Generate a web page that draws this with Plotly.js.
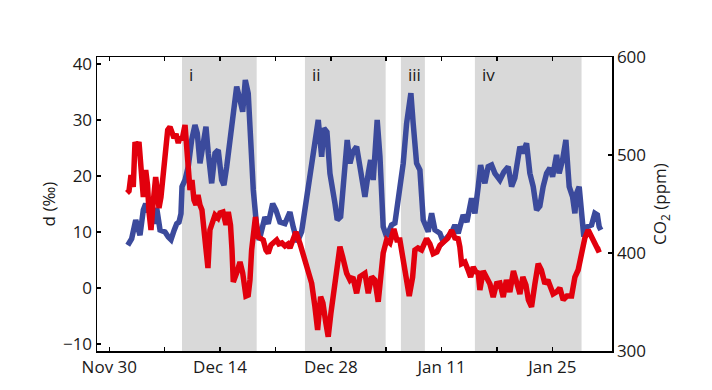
<!DOCTYPE html>
<html><head><meta charset="utf-8">
<script src="https://cdn.plot.ly/plotly-3.0.1.min.js"></script>
<style>html,body{margin:0;padding:0;background:#fff}</style>
</head><body><div id="chart" style="width:712px;height:390px"></div>
<script>
// days since Nov 30 (2013)
const blueDays = [2.33,2.83,3.34,3.67,3.88,4.30,4.60,4.93,5.27,5.69,5.99,6.41,7.04,7.46,7.80,8.21,8.52,8.81,9.06,9.19,9.57,9.98,10.41,10.83,11.12,11.46,11.88,12.22,12.51,12.94,13.36,13.77,14.20,14.49,14.84,15.25,15.67,16.10,16.52,16.86,17.19,17.56,17.87,18.20,18.63,18.95,19.26,19.67,20.09,20.65,21.06,21.57,22.20,22.83,23.25,23.76,24.31,24.94,25.58,25.99,26.41,26.84,27.13,27.51,27.89,28.52,28.81,29.24,29.66,30.07,30.42,30.79,31.26,31.68,32.31,32.73,33.03,33.36,33.86,34.21,34.62,35.05,35.68,36.10,36.52,37.15,37.58,38.12,38.41,38.84,39.26,39.68,40.31,40.74,41.16,41.79,42.20,42.84,43.30,43.68,44.10,44.73,45.20,45.79,46.21,46.63,46.93,47.47,47.89,48.32,48.74,49.37,49.87,50.42,50.85,51.26,51.90,52.27,52.74,53.16,53.58,54.01,54.42,54.84,55.27,55.69,56.03,56.53,56.86,57.29,57.71,58.13,58.56,58.85,59.06,59.39,59.69,59.98,60.40,60.96,61.37,61.69,61.92,62.13];
const co2Values = [407.9,414.6,433.7,423.5,418.1,443.9,450.3,441.8,449,429.9,445.9,423.5,421.4,416.3,413.6,423.5,429.9,431.6,440.1,467.7,474.5,488.1,515.3,530.6,522.1,491.5,515.3,528.9,501.7,471.1,501.7,505.1,474.5,469.4,488.1,515.3,535.7,569.7,556.1,544.2,576.5,563,515.3,464.3,426.8,413.3,423.2,436.7,429.9,450.3,443.9,431.6,429.9,441.8,426.5,411.2,421.7,454.1,484.7,505.1,535.7,498.3,527.2,523.5,481.3,450.7,433.7,437,481.3,515.3,491.5,503.1,508.5,484.7,457.4,481.3,494.9,474.5,535.7,498.3,426.8,416.6,428.6,430.6,457.4,491.5,532.3,563,532.3,491.5,484.7,433.7,421.7,440.5,423.5,420.1,411.5,416.6,421.4,428.6,420.1,438.8,431.6,455.8,440.5,467.7,489.8,471.1,488.1,489.8,481.3,474.5,482.7,488.1,467.7,476.5,508.5,502,511.9,481.3,467.7,443.9,448,467.7,481.3,486.7,477.9,500,481.3,494.9,515.3,467.7,457.4,440.5,460.9,467.7,440.5,416.6,426.8,428.6,440.5,438.8,426.8,423.5];
const redDays = [2.24,2.49,2.74,2.87,3.03,3.25,3.50,3.75,4.01,4.30,4.60,4.83,5.02,5.27,5.52,5.86,6.09,6.28,6.53,6.79,7.04,7.38,7.67,7.92,8.18,8.43,8.72,8.93,9.19,9.57,9.76,9.95,10.20,10.45,10.70,10.96,11.21,11.46,11.71,11.97,12.28,12.47,12.72,12.98,13.36,13.74,13.99,14.37,14.75,15.04,15.32,15.51,15.67,16.10,16.52,16.86,17.27,17.56,17.78,17.99,18.28,18.47,18.83,19.17,19.46,19.80,20.09,20.43,20.81,21.15,21.44,21.82,22.20,22.58,22.83,23.25,23.59,24.10,24.60,25.15,25.58,25.99,26.33,26.71,27.00,27.38,27.67,28.01,28.30,28.73,29.15,29.49,30.00,30.42,30.79,31.26,31.68,32.31,32.73,33.16,33.57,33.99,34.29,34.62,35.05,35.47,35.97,36.35,36.73,37.15,37.58,37.91,38.34,38.63,39.01,39.47,40.11,40.52,40.94,41.41,41.79,42.42,42.80,43.27,43.68,44.10,44.31,44.53,44.95,45.36,45.67,46.00,46.34,46.63,46.84,47.26,47.69,48.11,48.52,48.95,49.37,49.79,50.19,50.63,51.08,51.52,51.90,52.27,52.66,52.97,53.37,53.79,54.21,54.61,55.06,55.43,55.69,56.10,56.53,56.95,57.37,57.84,58.43,58.85,59.26,59.69,60.11,60.53,60.96,61.37,61.79,62.13];
const dValues = [16.96,17.32,20.18,18.39,18.04,26.07,25.18,26.07,21.07,16.25,21.07,18.39,13.57,10.36,14.82,19.82,17.14,14.29,16.25,20.18,23.39,28.21,28.75,27.86,26.79,27.5,25.89,26.96,26.43,29.11,24.64,20.18,17.5,19.29,15.71,14.82,16.61,14.82,13.93,10.36,4.64,3.57,10.36,11.79,13.04,12.5,13.39,13.57,11.25,13.57,11.25,6.79,1.07,2.68,4.64,2.68,-1.43,-1.25,1.43,6.79,11.25,12.68,9.11,8.93,8.57,6.79,6.25,7.68,8.04,8.57,7.86,8.04,7.5,7.86,7.14,8.75,10,7.95,5.59,3.21,0.84,-3.34,-7.5,-1.55,-2.68,-6.3,-8.7,-4.52,-0.95,3.8,7.37,5.59,2.62,1.43,1.96,-0.95,2.02,2.62,-0.95,2.02,1.43,-2.45,2.62,6.25,8.57,8.04,10.54,8.57,8.57,5,0.18,-1.43,1.96,6.79,7.14,6.79,8.8,7.86,6.12,6.43,7.62,8.52,8.93,10.3,8.93,8.8,7.32,4.34,4.64,3.16,1.96,3.75,2.86,2.68,-0.36,3.04,1.79,0.71,-1.61,0.77,0.89,-1.61,1.43,-0.71,3.04,1.07,-1.07,1.96,0.54,-2.14,-3.39,0.71,4.34,3.21,0.77,1.43,0.54,-1.07,-0.71,0,-2.14,-1.43,-1.43,1.96,3.21,6.61,8.93,10.36,8.93,7.86,6.79,6.96];
const shadeStartDays = [9.19, 24.73, 36.86, 46.21];
const shadeEndDays = [18.63, 34.93, 39.89, 59.69];
const shadeLabels = ['i', 'ii', 'iii', 'iv'];
const tickDays = [0, 14, 28, 42, 56];
const tickLabels = ['Nov 30', 'Dec 14', 'Dec 28', 'Jan 11', 'Jan 25'];
const minorTickDays = [7, 21, 35, 49];
const dTicks = [-10, 0, 10, 20, 30, 40];
const co2Ticks = [300, 400, 500, 600];

function toDate(d) {
  const t = Date.UTC(2013, 10, 30) + d * 86400000;
  return new Date(t).toISOString().slice(0, 19).replace('T', ' ');
}
const FONT = {family: 'Open Sans, Noto Sans, sans-serif', size: 17, color: '#1a1a1a'};

const traces = [
  {x: blueDays.map(toDate), y: co2Values, yaxis: 'y', type: 'scatter', mode: 'lines',
   line: {color: '#3b4a9c', width: 5.5}, hoverinfo: 'skip'},
  {x: redDays.map(toDate), y: dValues, yaxis: 'y2', type: 'scatter', mode: 'lines',
   line: {color: '#e2000d', width: 5.5}, hoverinfo: 'skip'}
];

const shapes = shadeStartDays.map((s, i) => ({
  type: 'rect', xref: 'x', yref: 'paper', x0: toDate(s), x1: toDate(shadeEndDays[i]),
  y0: 0, y1: 1, fillcolor: '#d9d9d9', line: {width: 0}, layer: 'below'
}));
const annotations = shadeStartDays.map((s, i) => ({
  x: toDate(s), xref: 'x', y: 0.94, yref: 'paper', text: shadeLabels[i],
  xanchor: 'left', yanchor: 'middle', xshift: 5, showarrow: false, font: FONT
}));

const layout = {
  width: 712, height: 390,
  margin: {l: 97, r: 100, t: 57, b: 39, pad: 0},
  paper_bgcolor: '#fff', plot_bgcolor: 'rgba(0,0,0,0)',
  showlegend: false, font: FONT,
  shapes, annotations,
  xaxis: {type: 'date', range: [toDate(-1.555), toDate(63.54)],
    tickmode: 'array', tickvals: tickDays.map(toDate), ticktext: tickLabels,
    ticks: 'inside', ticklen: 4, tickwidth: 1.5, tickcolor: '#000',
    minor: {tickmode: 'array', tickvals: minorTickDays.map(toDate), ticks: 'inside',
      ticklen: 4, tickwidth: 1.5, tickcolor: '#000', showgrid: false},
    showline: true, linewidth: 1.5, linecolor: '#000', mirror: 'ticks',
    showgrid: false, zeroline: false, tickfont: FONT},
  yaxis: {range: [300, 600], side: 'right', tickmode: 'array', tickvals: co2Ticks,
    ticks: 'inside', ticklen: 4, tickwidth: 1.5, tickcolor: '#000',
    showline: true, linewidth: 1.5, linecolor: '#000',
    showgrid: false, zeroline: false, tickfont: FONT,
    title: {text: 'CO<sub>2</sub> (ppm)', font: FONT, standoff: 9}},
  yaxis2: {range: [-11.25, 41.25], side: 'left', overlaying: 'y', tickmode: 'array', tickvals: dTicks,
    ticks: 'inside', ticklen: 4, tickwidth: 1.5, tickcolor: '#000',
    showline: true, linewidth: 1.5, linecolor: '#000',
    showgrid: false, zeroline: false, tickfont: FONT,
    title: {text: 'd (‰)', font: FONT, standoff: 3}}
};
Plotly.newPlot('chart', traces, layout, {staticPlot: true, displayModeBar: false});
</script></body></html>
